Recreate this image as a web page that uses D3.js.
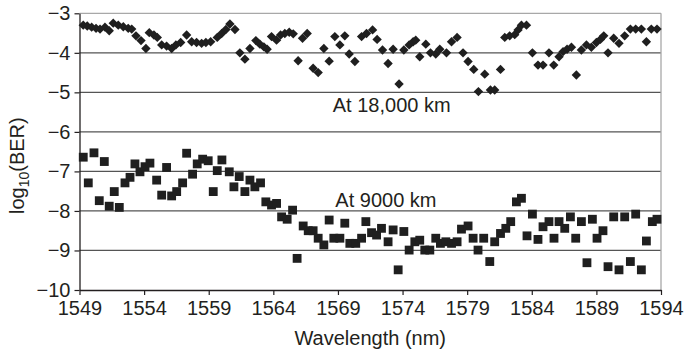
<!DOCTYPE html>
<html lang="en">
<head>
<meta charset="UTF-8">
<title>BER vs wavelength</title>
<script src="https://cdn.jsdelivr.net/npm/d3@7/dist/d3.min.js"></script>
<style>
  body { margin: 0; background: #fff; }
  text { font-family: "Liberation Sans", Arial, sans-serif; fill: #231f20; }
</style>
</head>
<body>
<div class="chart"></div>
<script>
// 18,000 km transmission (diamonds)
let wave18000 = [
  1549.29,1549.60,1549.94,1550.28,1550.59,1550.97,1551.30,1551.61,1552.00,1552.39,
  1552.77,1553.04,1553.37,1553.76,1554.14,1554.40,1554.76,1555.02,1555.36,1555.74,
  1556.13,1556.46,1556.83,1557.29,1557.68,1558.06,1558.45,1558.78,1559.15,1559.66,
  1560.00,1560.33,1560.64,1561.03,1561.41,1561.80,1562.19,1562.65,1562.96,1563.27,
  1563.52,1563.86,1564.25,1564.56,1564.89,1565.23,1565.54,1565.92,1566.26,1566.62,
  1567.08,1567.47,1567.91,1568.32,1568.76,1569.15,1569.53,1569.87,1570.31,1570.83,
  1571.21,1571.68,1572.03,1572.45,1572.88,1573.27,1573.73,1574.10,1574.51,1574.82,
  1575.02,1575.33,1575.80,1576.16,1576.57,1576.88,1577.40,1577.79,1578.22,1578.68,
  1579.07,1579.51,1579.87,1580.36,1580.80,1581.13,1581.58,1581.91,1582.29,1582.68,
  1582.94,1583.20,1583.59,1584.05,1584.48,1584.87,1585.33,1585.70,1586.11,1586.42,
  1586.73,1587.07,1587.45,1587.84,1588.23,1588.61,1589.00,1589.31,1589.57,1589.90,
  1590.34,1590.75,1591.19,1591.63,1592.04,1592.48,1592.87,1593.25,1593.69]
let ber18000 = [
  -3.30,-3.32,-3.35,-3.38,-3.40,-3.35,-3.44,-3.25,-3.30,-3.34,
  -3.38,-3.40,-3.57,-3.69,-3.89,-3.49,-3.55,-3.61,-3.80,-3.83,
  -3.89,-3.80,-3.74,-3.55,-3.72,-3.74,-3.76,-3.74,-3.72,-3.61,
  -3.51,-3.41,-3.27,-3.41,-4.00,-4.16,-3.89,-3.69,-3.78,-3.85,
  -3.91,-3.59,-3.68,-3.55,-3.51,-3.48,-3.52,-4.20,-3.63,-3.51,
  -4.39,-4.50,-3.89,-4.21,-3.59,-3.80,-3.57,-4.03,-4.22,-3.59,
  -3.51,-3.42,-3.66,-3.93,-4.27,-3.91,-4.79,-3.93,-3.80,-3.72,
  -3.68,-4.10,-3.78,-4.00,-4.03,-3.91,-4.00,-3.72,-3.61,-4.00,
  -4.22,-4.42,-4.98,-4.54,-4.94,-4.94,-4.42,-3.61,-3.57,-3.54,
  -3.42,-3.30,-3.30,-4.00,-4.31,-4.31,-4.00,-4.31,-4.10,-3.97,
  -3.91,-3.86,-4.56,-3.93,-3.80,-3.86,-3.74,-3.66,-3.57,-4.00,
  -3.63,-3.76,-3.57,-3.40,-3.40,-3.40,-3.72,-3.40,-3.40]

// 9000 km transmission (squares)
let wave9000 = [
  1549.29,1549.68,1550.12,1550.53,1550.92,1551.30,1551.69,1552.08,1552.52,1552.91,
  1553.29,1553.68,1554.07,1554.45,1554.97,1555.36,1555.74,1556.13,1556.52,1556.98,
  1557.29,1557.75,1558.11,1558.53,1558.96,1559.35,1559.66,1560.02,1560.59,1560.95,
  1561.36,1561.80,1562.19,1562.57,1563.01,1563.42,1563.86,1564.25,1564.64,1565.07,
  1565.49,1565.84,1566.31,1566.70,1567.08,1567.47,1567.91,1568.32,1568.68,1569.15,
  1569.53,1569.92,1570.38,1570.83,1571.16,1571.60,1571.99,1572.37,1572.88,1573.27,
  1573.66,1574.10,1574.51,1574.95,1575.33,1575.72,1576.11,1576.57,1576.93,1577.35,
  1577.79,1578.22,1578.56,1579.07,1579.46,1579.84,1580.28,1580.75,1581.13,1581.58,
  1581.99,1582.37,1582.81,1583.20,1583.63,1584.05,1584.48,1584.87,1585.33,1585.72,
  1586.11,1586.55,1586.99,1587.40,1587.84,1588.27,1588.69,1589.05,1589.51,1589.90,
  1590.34,1590.75,1591.19,1591.63,1592.04,1592.48,1592.87,1593.33,1593.69]
let ber9000 = [
  -6.64,-7.29,-6.53,-7.74,-6.75,-7.88,-7.51,-7.91,-7.29,-7.15,
  -6.81,-7.01,-6.88,-6.79,-7.22,-7.60,-6.90,-7.62,-7.51,-7.29,
  -6.54,-7.07,-6.81,-6.69,-6.73,-7.51,-6.98,-6.71,-7.01,-7.39,
  -7.13,-7.51,-7.22,-7.39,-7.29,-7.77,-7.85,-7.81,-8.15,-8.21,
  -7.98,-9.20,-8.38,-8.50,-8.50,-8.69,-8.86,-8.23,-8.69,-8.69,
  -8.31,-8.82,-8.82,-8.69,-8.27,-8.55,-8.61,-8.44,-8.78,-8.48,
  -9.49,-8.52,-8.99,-8.78,-8.74,-8.99,-8.99,-8.69,-8.82,-8.78,
  -8.82,-8.78,-8.46,-8.38,-8.69,-8.99,-8.69,-9.28,-8.78,-8.57,
  -8.44,-8.27,-7.77,-7.68,-8.63,-8.08,-8.72,-8.40,-8.27,-8.69,
  -8.27,-8.44,-8.15,-8.69,-8.27,-9.31,-8.21,-8.69,-8.50,-9.41,
  -8.15,-9.49,-8.15,-9.28,-8.08,-9.49,-8.76,-8.27,-8.21]

let xTicks = [1549,1554,1559,1564,1569,1574,1579,1584,1589,1594]
let yTicks = [-10,-9,-8,-7,-6,-5,-4,-3]
let seriesLabels = ["At 18,000 km", "At 9000 km"]

let width = 685, height = 352
let margin = {top: 13.3, right: 24, bottom: 62, left: 79.5}
let innerW = width - margin.left - margin.right
let innerH = height - margin.top - margin.bottom

let x = d3.scaleLinear().domain([1549, 1594]).range([0, innerW])
let y = d3.scaleLinear().domain([-10, -3]).range([innerH, 0])

let svg = d3.select('.chart').append('svg').attr('width', width).attr('height', height)
let g = svg.append('g').attr('transform', 'translate(' + margin.left + ',' + margin.top + ')')

// horizontal grid lines
g.append('g').selectAll('line').data(yTicks.filter(d => d > -10)).join('line')
  .attr('x1', 0).attr('x2', innerW)
  .attr('y1', d => y(d)).attr('y2', d => y(d))
  .attr('stroke', d => d == -3 ? '#a8a8a8' : '#555')
  .attr('stroke-width', 1.3)

// right border
g.append('line').attr('x1', innerW).attr('x2', innerW).attr('y1', 0).attr('y2', innerH)
  .attr('stroke', '#a8a8a8').attr('stroke-width', 1.3)

let xAxis = d3.axisBottom(x).tickValues(xTicks).tickFormat(d3.format('d')).tickSize(5).tickSizeOuter(0)
let gx = g.append('g').attr('transform', 'translate(0,' + innerH + ')').call(xAxis)
gx.select('.domain').attr('stroke', '#231f20').attr('stroke-width', 1.3)
gx.selectAll('.tick line').attr('stroke', '#231f20').attr('stroke-width', 1.2)
gx.selectAll('.tick text').attr('font-size', 20).attr('dy', '0.71em').attr('y', 11)

let yAxis = d3.axisLeft(y).tickValues(yTicks).tickFormat(d => '\u2212' + Math.abs(d)).tickSize(5).tickSizeOuter(0)
let gy = g.append('g').call(yAxis)
gy.select('.domain').attr('stroke', '#231f20').attr('stroke-width', 1.3)
gy.selectAll('.tick line').attr('stroke', '#231f20').attr('stroke-width', 1.2)
gy.selectAll('.tick text').attr('font-size', 20).attr('x', -9)
svg.selectAll('.tick text').attr('fill', '#231f20').attr('font-family', '"Liberation Sans", Arial, sans-serif')

// markers
let d18 = wave18000.map((w, i) => [w, ber18000[i]])
let d9 = wave9000.map((w, i) => [w, ber9000[i]])

g.append('g').selectAll('path').data(d18).join('path')
  .attr('d', d3.symbol(d3.symbolSquare, 44))
  .attr('transform', d => 'translate(' + x(d[0]) + ',' + y(d[1]) + ') rotate(45)')
  .attr('fill', '#1f1f1f')

g.append('g').selectAll('path').data(d9).join('path')
  .attr('d', d3.symbol(d3.symbolSquare, 78))
  .attr('transform', d => 'translate(' + x(d[0]) + ',' + y(d[1]) + ')')
  .attr('fill', '#1f1f1f')

// series labels
g.append('text').attr('x', x(1568.6)).attr('y', y(-5.0) + 20).attr('font-size', 20).text(seriesLabels[0])
g.append('text').attr('x', x(1568.8)).attr('y', y(-7.45) + 18).attr('font-size', 20).text(seriesLabels[1])

// axis titles
svg.append('text').attr('x', margin.left + innerW / 2).attr('y', 345)
  .attr('text-anchor', 'middle').attr('font-size', 20).text('Wavelength (nm)')
let yt = svg.append('text').attr('transform', 'translate(24,' + (margin.top + innerH / 2 + 14) + ') rotate(-90)')
  .attr('text-anchor', 'middle').attr('font-size', 20)
yt.append('tspan').text('log')
yt.append('tspan').attr('font-size', 14).attr('dy', 5).text('10')
yt.append('tspan').attr('dy', -5).text('(BER)')
</script>
</body>
</html>
